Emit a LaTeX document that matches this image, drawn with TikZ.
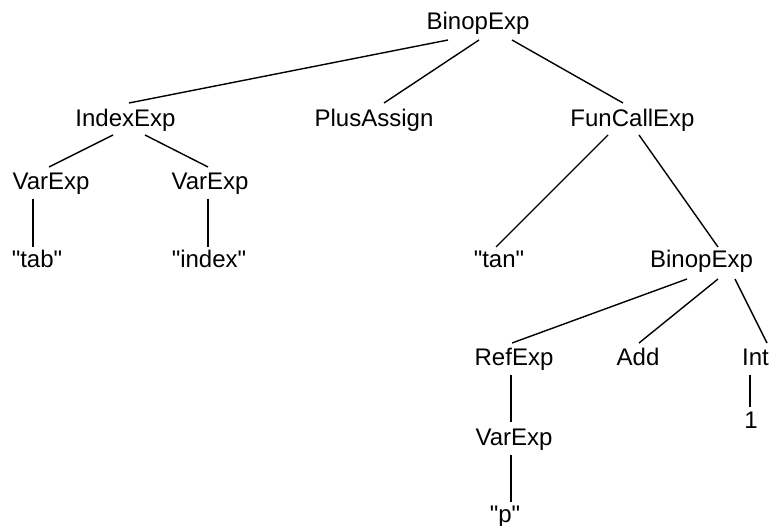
\documentclass[tikz,border=0pt]{standalone}
\usepackage{fontspec}
\setmainfont{Liberation Sans}[Ligatures=TeXOff]
\begin{document}
\begin{tikzpicture}[x=1pt,y=-1pt,
  lbl/.style={anchor=base,inner sep=0pt,font=\fontsize{24}{28}\selectfont},
  edge/.style={line width=1.4pt,line cap=butt}]
\path[use as bounding box] (0,0) rectangle (770,526);
\clip (0,0) rectangle (770,526);
% nodes
\node[lbl] (b1) at (478,30) {BinopExp};
\node[lbl] (ie) at (125.5,127) {IndexExp};
\node[lbl] (pa) at (374,127) {PlusAssign};
\node[lbl] (fc) at (632.5,127) {FunCallExp};
\node[lbl] (v1) at (51,190) {VarExp};
\node[lbl] (v2) at (210,190) {VarExp};
\node[lbl] (tab) at (37,268) {"tab"};
\node[lbl] (idx) at (209,268) {"index"};
\node[lbl] (tan) at (499,268) {"tan"};
\node[lbl] (b2) at (701.5,268) {BinopExp};
\node[lbl] (re) at (514,365) {RefExp};
\node[lbl] (add) at (638,365) {Add};
\node[lbl,anchor=base east] (int) at (769,365) {Int};
\node[lbl] (v3) at (514,445) {VarExp};
\node[lbl] (one) at (751,428) {1};
\node[lbl] (p) at (505,522) {"p"};
% connectors
\draw[edge] ([shift={(-30,10)}]b1.base) -- ([shift={(3.5,-24)}]ie.base);
\draw[edge] ([shift={(1,10)}]b1.base) -- ([shift={(10,-24)}]pa.base);
\draw[edge] ([shift={(34,10)}]b1.base) -- ([shift={(-9.5,-24)}]fc.base);
\draw[edge] ([shift={(-12.5,8)}]ie.base) -- ([shift={(-2,-23)}]v1.base);
\draw[edge] ([shift={(19.5,8)}]ie.base) -- ([shift={(-2,-23)}]v2.base);
\draw[edge] ([shift={(-18,9)}]v1.base) -- ([shift={(-4,-21)}]tab.base);
\draw[edge] ([shift={(-2,9)}]v2.base) -- ([shift={(-1,-21)}]idx.base);
\draw[edge] ([shift={(-24.5,8)}]fc.base) -- ([shift={(-3,-21)}]tan.base);
\draw[edge] ([shift={(6.5,8)}]fc.base) -- ([shift={(16.5,-21)}]b2.base);
\draw[edge] ([shift={(-14.5,11)}]b2.base) -- ([shift={(-2,-22)}]re.base);
\draw[edge] ([shift={(16.5,11)}]b2.base) -- ([shift={(1,-22)}]add.base);
\draw[edge] ([shift={(33.5,11)}]b2.base) -- ([shift={(-2,-22)}]int.base east);
\draw[edge] ([shift={(-19,10)}]int.base east) -- ([shift={(-1,-21)}]one.base);
\draw[edge] ([shift={(-3,10)}]re.base) -- ([shift={(-3,-23)}]v3.base);
\draw[edge] ([shift={(-3,10)}]v3.base) -- ([shift={(6,-20)}]p.base);
\end{tikzpicture}
\end{document}
